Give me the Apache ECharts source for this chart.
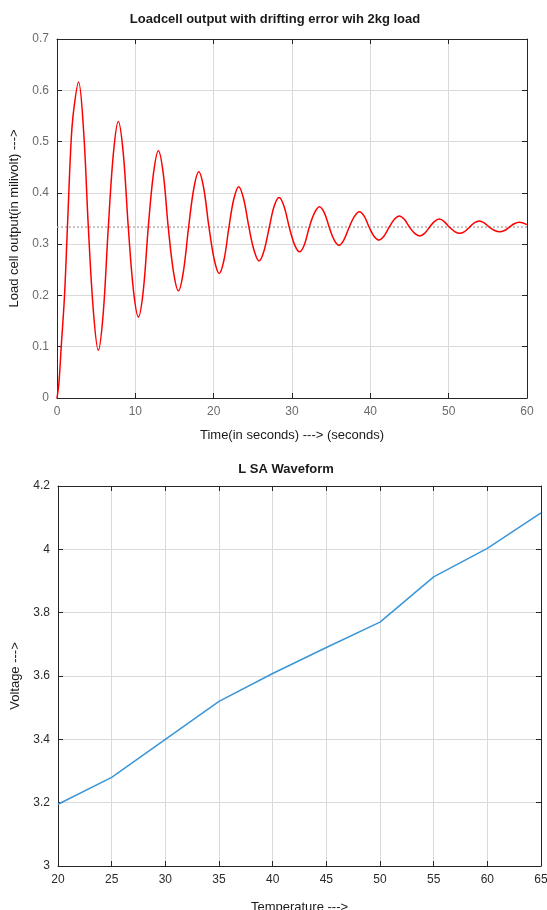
<!DOCTYPE html>
<html>
<head>
<meta charset="utf-8">
<script src="https://cdn.jsdelivr.net/npm/echarts@6/dist/echarts.min.js"></script>
<style>
html,body{margin:0;padding:0;background:#fff;}
#chart{width:547px;height:910px;}
</style>
</head>
<body>
<div id="chart"></div>
<script>
// ---- Top chart: load cell output ----
const timeSec = [
  0, 0.25, 0.54, 0.96, 1.33, 1.8, 2.12, 2.75, 3.4, 4.0, 4.64, 5.27, 5.9, 6.55, 7.2, 7.83, 8.46, 9.1,
  9.76, 10.39, 11.02, 11.65, 12.31, 12.94, 13.57, 14.2, 14.87, 15.5, 16.13, 16.8, 17.47, 18.1, 18.73, 19.4,
  20.07, 20.7, 21.33, 21.95, 22.57, 23.2, 23.83, 24.5, 25.17, 25.8, 26.43, 27.1, 27.72, 28.35, 28.98, 29.65,
  30.32, 30.95, 31.58, 32.2, 32.87, 33.5, 34.13, 34.75, 35.37, 36.0, 36.63, 37.3, 37.97, 38.6, 39.23, 39.85,
  40.47, 41.1, 41.73, 42.4, 43.07, 43.7, 44.33, 45.0, 45.67, 46.3, 46.93, 47.55, 48.17, 48.8, 49.43, 50.1,
  50.77, 51.4, 52.03, 52.65, 53.27, 53.9, 54.53, 55.2, 55.87, 56.5, 57.13, 57.75, 58.37, 59.0, 60
];
const outputMv = [
  0, 0.03, 0.1, 0.2, 0.333, 0.5, 0.56, 0.616, 0.52, 0.333, 0.17, 0.093, 0.165, 0.333, 0.477, 0.539, 0.477, 0.333,
  0.21, 0.158, 0.21, 0.333, 0.437, 0.482, 0.437, 0.333, 0.246, 0.209, 0.246, 0.333, 0.409, 0.441, 0.409, 0.333,
  0.27, 0.243, 0.27, 0.333, 0.388, 0.412, 0.388, 0.333, 0.287, 0.267, 0.287, 0.333, 0.374, 0.391, 0.374, 0.333,
  0.299, 0.285, 0.299, 0.333, 0.361, 0.373, 0.361, 0.333, 0.3085, 0.298, 0.3085, 0.333, 0.354, 0.363, 0.354, 0.333,
  0.3155, 0.308, 0.3155, 0.333, 0.3485, 0.355, 0.3485, 0.333, 0.321, 0.316, 0.321, 0.333, 0.344, 0.349, 0.344, 0.333,
  0.3245, 0.321, 0.3245, 0.333, 0.3415, 0.345, 0.3415, 0.333, 0.3265, 0.324, 0.3265, 0.333, 0.3397, 0.3425, 0.338
];
const steadyTime = [0, 60];
const steadyValue = [0.3333, 0.3333];

// ---- Bottom chart: LSA waveform ----
const temperature = [20, 25, 30, 35, 40, 45, 50, 55, 60, 65];
const voltage = [3.195, 3.28, 3.40, 3.52, 3.608, 3.69, 3.77, 3.913, 4.003, 4.115];

const FONT = 'Liberation Sans, Arial, sans-serif';
const AXIS_COLOR = '#262626';
const GRID_COLOR = '#dadada';

function mainAxis(extra) {
  return Object.assign({
    type: 'value',
    axisLine: {show: true, onZero: false, lineStyle: {color: AXIS_COLOR, width: 1}},
    axisTick: {show: true, inside: true, length: 5, lineStyle: {color: AXIS_COLOR}},
    splitLine: {show: true, lineStyle: {color: GRID_COLOR, width: 1}},
    nameTextStyle: {color: '#1a1a1a', fontFamily: FONT, fontSize: 13},
    axisLabel: {color: '#6b6b6b', fontFamily: FONT, fontSize: 12}
  }, extra);
}
function boxAxis(extra) {
  return Object.assign({
    type: 'value',
    axisLine: {show: true, onZero: false, lineStyle: {color: AXIS_COLOR, width: 1}},
    axisTick: {show: true, inside: true, length: 5, lineStyle: {color: AXIS_COLOR}},
    splitLine: {show: false},
    axisLabel: {show: false}
  }, extra);
}

const chart = echarts.init(document.getElementById('chart'), null, {renderer: 'canvas'});
const option = {
  backgroundColor: '#ffffff',
  animation: false,
  graphic: [
    {type: 'text', x: 275, y: 13, style: {text: 'Loadcell output with drifting error wih 2kg load', font: 'bold 13px ' + FONT, fill: '#1a1a1a', textAlign: 'center'}},
    {type: 'text', x: 286, y: 463, style: {text: 'L SA Waveform', font: 'bold 13px ' + FONT, fill: '#1a1a1a', textAlign: 'center'}}
  ],
  grid: [
    {left: 57, right: 20, top: 39, height: 359, containLabel: false, outerBoundsMode: 'none'},
    {left: 58, right: 6, top: 486, height: 380, containLabel: false, outerBoundsMode: 'none'}
  ],
  xAxis: [
    mainAxis({gridIndex: 0, min: 0, max: 60, interval: 10, position: 'bottom',
      name: 'Time(in seconds) ---> (seconds)', nameLocation: 'middle', nameGap: 31}),
    boxAxis({gridIndex: 0, min: 0, max: 60, interval: 10, position: 'top'}),
    mainAxis({gridIndex: 1, min: 20, max: 65, interval: 5, position: 'bottom',
      name: 'Temperature --->', nameLocation: 'middle', nameGap: 35,
      axisLabel: {color: '#2a2a2a', fontFamily: FONT, fontSize: 12}}),
    boxAxis({gridIndex: 1, min: 20, max: 65, interval: 5, position: 'top'})
  ],
  yAxis: [
    mainAxis({gridIndex: 0, min: 0, max: 0.7, interval: 0.1, position: 'left',
      name: 'Load cell output(in milivolt) --->', nameLocation: 'middle', nameGap: 31}),
    boxAxis({gridIndex: 0, min: 0, max: 0.7, interval: 0.1, position: 'right'}),
    mainAxis({gridIndex: 1, min: 3, max: 4.2, interval: 0.2, position: 'left',
      name: 'Voltage --->', nameLocation: 'middle', nameGap: 35,
      axisLabel: {color: '#2a2a2a', fontFamily: FONT, fontSize: 12}}),
    boxAxis({gridIndex: 1, min: 3, max: 4.2, interval: 0.2, position: 'right'})
  ],
  series: [
    {
      type: 'line', xAxisIndex: 0, yAxisIndex: 0, showSymbol: false, silent: true,
      data: steadyTime.map((t, i) => [t, steadyValue[i]]),
      lineStyle: {color: '#b4b4b4', width: 1.5, type: [2, 2]}
    },
    {
      type: 'line', xAxisIndex: 0, yAxisIndex: 0, showSymbol: false, smooth: 0.35,
      data: timeSec.map((t, i) => [t, outputMv[i]]),
      lineStyle: {color: '#ff0000', width: 1.5}
    },
    {
      type: 'line', xAxisIndex: 2, yAxisIndex: 2, showSymbol: false,
      data: temperature.map((t, i) => [t, voltage[i]]),
      lineStyle: {color: '#3a96d8', width: 1.5}
    }
  ]
};
chart.setOption(option);
</script>
</body>
</html>
